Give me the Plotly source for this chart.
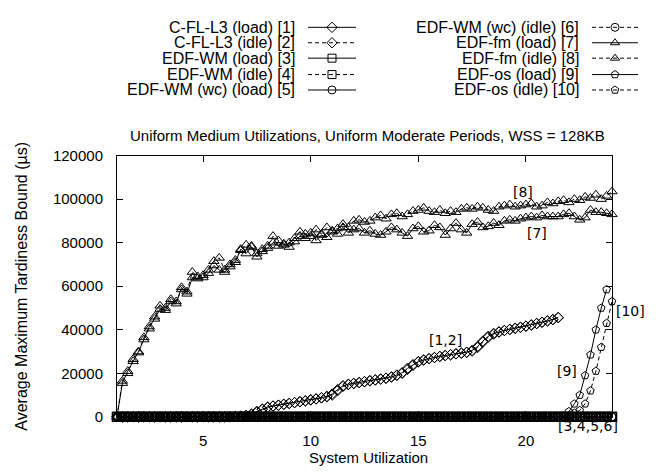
import numpy as np
import plotly.graph_objects as go

# ---------------- data ----------------
util = np.round(np.arange(1.0, 24.001, 0.25), 2)          # 1 .. 24 step 0.25 (93 pts)
util_cfl = util[util <= 21.5]                               # C-FL-L3 ends at 21.5

cfl_load = [0] * 22 + [200, 400, 700, 1300, 2500, 3600, 4500, 5000, 5400, 5800,
                       6200, 6600, 7000, 7400, 7900, 8300, 8800, 9400, 10500, 12500,
                       14300, 15000, 15400, 15800, 16200, 16700, 17000, 17400, 17800, 18400,
                       19200, 20300, 22300, 24000, 25400, 26200, 26800, 27300, 27800, 28200,
                       28600, 29000, 29300, 29700, 30500, 32300, 34800, 37000, 38300, 39100,
                       39700, 40200, 40700, 41200, 41700, 42300, 42900, 43500, 44100, 44700,
                       45700]
cfl_idle = [0] * 22 + [100, 300, 600, 1100, 2200, 3400, 4300, 4900, 5300, 5700,
                       6100, 6500, 6900, 7300, 7700, 8200, 8700, 9200, 10000, 12000,
                       14000, 14800, 15300, 15700, 16100, 16500, 16900, 17300, 17700, 18200,
                       19000, 20000, 21800, 23600, 25200, 26000, 26700, 27200, 27700, 28100,
                       28500, 28900, 29200, 29600, 30200, 31800, 34300, 36600, 38000, 38900,
                       39600, 40100, 40600, 41100, 41600, 42100, 42800, 43400, 44000, 44600,
                       45500]

wm_load = [0] * 93
wm_idle = [0] * 93
wmwc_load = [0] * 93
wmwc_idle = [0] * 93

fm_load = [0, 15500, 21000, 25500, 30000, 35500, 41500, 45000, 49500, 49000,
           53000, 52000, 59500, 56500, 64000, 63500, 64000, 66000, 69500, 67500,
           66500, 69000, 71000, 77000, 75000, 78000, 73500, 76000, 77500, 80000,
           78500, 79500, 78000, 80500, 83000, 82000, 84500, 81000, 83500, 82500,
           85000, 84000, 87000, 84500, 86000, 86500, 84500, 85500, 84000, 83500,
           85000, 87000, 86000, 84500, 83000, 86500, 87500, 85000, 85500, 88000,
           87000, 83500, 86500, 89000, 86000, 84500, 88500, 89500, 87000, 87500,
           89000, 88000, 90000, 90500, 90000, 91000, 91500, 92000, 91500, 92500,
           92000, 92000, 92000, 93000, 93500, 92000, 90500, 91500, 95000, 94000,
           94000, 93500, 93000]
fm_idle = [0, 16500, 20000, 26500, 29500, 36500, 40500, 46000, 51000, 50000,
           54000, 53000, 58500, 57500, 66500, 64500, 65000, 67500, 71500, 73000,
           67500, 70000, 72000, 76500, 79000, 78500, 75000, 77000, 78500, 83000,
           81000, 79000, 80000, 82000, 85000, 84000, 83000, 86000, 84000, 87000,
           85500, 86500, 88500, 87000, 90000, 90500, 89500, 90000, 91500, 92500,
           91000, 93000, 93500, 92000, 93000, 94500, 95000, 96000, 94500, 94000,
           95000, 93500, 94500, 94000, 95500, 96000, 95500, 96500, 96000, 95000,
           94500, 96500, 97000, 97500, 96500, 97000, 97500, 98000, 96500, 97000,
           98500, 98000, 99000, 99500, 98500, 100000, 99500, 101000, 100500, 102000,
           100000, 101500, 103500]

os_load = [0] * 83 + [500, 2500, 6000, 10000, 19000, 28500, 40000, 50000, 58500]   # ends 23.75
os_idle = [0] * 84 + [500, 1800, 3000, 6000, 12000, 21000, 32000, 43000, 53000]   # ends 24

names = ["C-FL-L3 (load) [1]", "C-FL-L3 (idle) [2]", "EDF-WM (load) [3]", "EDF-WM (idle) [4]",
         "EDF-WM (wc) (load) [5]", "EDF-WM (wc) (idle) [6]", "EDF-fm (load) [7]",
         "EDF-fm (idle) [8]", "EDF-os (load) [9]", "EDF-os (idle) [10]"]

curve_labels = ["[8]", "[7]", "[1,2]", "[9]", "[10]", "[3,4,5,6]"]

# ---------------- styles / layout (screen pixels) ----------------
SYM = ["diamond-open", "diamond-open", "square-open", "square-open", "circle-open",
       "circle-open", "triangle-up-open", "triangle-up-open", "pentagon-open", "pentagon-open"]
SIZE = [8, 8, 9, 9, 8, 8, 9, 9, 8, 8]
MLW = [1, 1, 1.3, 1.3, 1.3, 1.3, 1, 1, 1, 1]
DASH = ["solid", "4px,3px"] * 5

series_x = [util_cfl, util_cfl, util, util, util, util, util, util, util[:len(os_load)], util]
series_y = [cfl_load, cfl_idle, wm_load, wm_idle, wmwc_load, wmwc_idle, fm_load, fm_idle,
            os_load, os_idle]

W, H = 660, 475
L, R, T, B = 117, 612, 152, 423
FONT = "Liberation Sans, Arial, Helvetica, sans-serif"
LBLFONT = "DejaVu Sans, sans-serif"

key_text_right = [297, 581]
key_line = [(308, 356), (592, 638)]
key_rows = [19, 35, 51, 68, 84]
label_pos = [(523, 190), (537, 232), (445, 343), (567, 375), (630, 313), (588, 432)]

fig = go.Figure()
for i in range(10):
    fig.add_trace(go.Scatter(
        x=series_x[i], y=series_y[i], mode="lines+markers", name=names[i],
        line=dict(color="black", width=1, dash=DASH[i]),
        marker=dict(symbol=SYM[i], size=SIZE[i], color="black",
                    line=dict(width=MLW[i], color="black")),
        cliponaxis=False, showlegend=False))

# ---------------- gnuplot-style key on a full-figure pixel overlay (x2/y2) ----------------
ann = []
for i, nm in enumerate(names):
    c, r = divmod(i, 5)
    y = key_rows[r]
    x0, x1 = key_line[c]
    ann.append(dict(x=key_text_right[c], y=y, xref="x2", yref="y2", text=nm, showarrow=False,
                    xanchor="right", yanchor="middle",
                    font=dict(family=FONT, size=16, color="black")))
    fig.add_trace(go.Scatter(x=[x0, x1], y=[y, y], xaxis="x2", yaxis="y2", mode="lines",
                             line=dict(color="black", width=1, dash=DASH[i]),
                             showlegend=False, hoverinfo="skip"))
    fig.add_trace(go.Scatter(x=[(x0 + x1) / 2], y=[y], xaxis="x2", yaxis="y2", mode="markers",
                             marker=dict(symbol=SYM[i], size=min(SIZE[i], 8), color="black",
                                         line=dict(width=1, color="black")),
                             showlegend=False, hoverinfo="skip"))

for t, (x, y) in zip(curve_labels, label_pos):
    ann.append(dict(x=x, y=y, xref="x2", yref="y2", text=t, showarrow=False,
                    xanchor="center", yanchor="middle",
                    font=dict(family=LBLFONT, size=14, color="black")))

ann.append(dict(x=22, y=288, xref="x2", yref="y2", text="Average Maximum Tardiness Bound (µs)",
                textangle=-90, showarrow=False, xanchor="center", yanchor="middle",
                font=dict(family=FONT, size=16, color="black")))
ann.append(dict(x=368, y=465, xref="x2", yref="y2", text="System Utilization",
                showarrow=False, xanchor="center", yanchor="middle",
                font=dict(family=FONT, size=15, color="black")))
ann.append(dict(x=367, y=131, xref="x2", yref="y2",
                text="Uniform Medium Utilizations, Uniform Moderate Periods, WSS = 128KB",
                showarrow=False, xanchor="center", yanchor="middle",
                font=dict(family=FONT, size=15, color="black")))

axis_common = dict(showline=True, linecolor="black", linewidth=1, mirror="allticks",
                   ticks="inside", ticklen=6, tickcolor="black", showgrid=False, zeroline=False,
                   tickfont=dict(family=FONT, size=15, color="black"))

fig.update_layout(
    width=W, height=H, margin=dict(l=0, r=0, t=0, b=0, pad=0),
    plot_bgcolor="rgba(0,0,0,0)", paper_bgcolor="white", showlegend=False, hovermode=False,
    xaxis=dict(range=[1, 24], tick0=0, dtick=5, ticklabelstandoff=10,
               domain=[L / W, R / W], anchor="y", **axis_common),
    yaxis=dict(range=[0, 120000], tick0=0, dtick=20000, tickformat="d", ticklabelstandoff=10,
               domain=[(H - B) / H, (H - T) / H], anchor="x", **axis_common),
    xaxis2=dict(range=[0, W], domain=[0, 1], anchor="y2", visible=False, fixedrange=True),
    yaxis2=dict(range=[H, 0], domain=[0, 1], anchor="x2", visible=False, fixedrange=True),
    annotations=ann,
)

fig.write_html("out.html",
               config={"displayModeBar": False, "staticPlot": True},
               post_script="document.body.style.margin='0';"
                           "document.documentElement.style.overflow='hidden';")
